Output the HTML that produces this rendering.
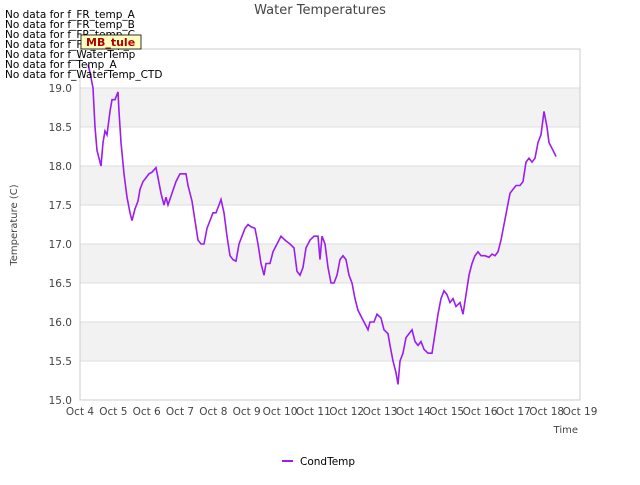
<!DOCTYPE html>
<html><head><meta charset="utf-8"><style>
body{margin:0;background:#fff;}
svg{font-family:"DejaVu Sans","Liberation Sans",sans-serif;}
</style></head><body>
<svg id="c" width="640" height="480">
<text x="320" y="14" text-anchor="middle" font-size="13" fill="#444">Water Temperatures</text>
<g id="bands"></g>
<g id="grid"></g>
<rect x="80" y="49" width="500" height="351" fill="none" stroke="#ccc"/>
<g id="yt"></g><g id="xt"></g>
<text x="17" y="225" transform="rotate(-90 17 225)" text-anchor="middle" font-size="10" fill="#444">Temperature (C)</text>
<text x="578" y="433" text-anchor="end" font-size="10" fill="#444">Time</text>
<path id="line" fill="none" stroke="#9b1df0" stroke-width="1.6"/>
<g font-size="10.5" fill="#000">
<text x="5" y="18">No data for f_FR_temp_A</text>
<text x="5" y="28">No data for f_FR_temp_B</text>
<text x="5" y="38">No data for f_FR_temp_C</text>
<text x="5" y="48">No data for f_FD_Temp_1</text>
<text x="5" y="58">No data for f_WaterTemp</text>
<text x="5" y="68">No data for f_Temp_A</text>
<text x="5" y="78">No data for f_WaterTemp_CTD</text>
</g>
<rect x="81" y="35" width="60" height="14" fill="#ffffc0" stroke="#000" stroke-width="0.8"/>
<text x="86" y="46" font-size="11" fill="#b00000" font-weight="bold">MB_tule</text>
<line x1="282" y1="461" x2="293" y2="461" stroke="#9b1df0" stroke-width="2"/>
<text x="300" y="465" font-size="10.5" fill="#000">CondTemp</text>
</svg>
<script>
const yTicks=[15.0,15.5,16.0,16.5,17.0,17.5,18.0,18.5,19.0];
const xLabels=["Oct 4","Oct 5","Oct 6","Oct 7","Oct 8","Oct 9","Oct 10","Oct 11","Oct 12","Oct 13","Oct 14","Oct 15","Oct 16","Oct 17","Oct 18","Oct 19"];
const days=[0.24,0.30,0.39,0.45,0.51,0.60,0.63,0.69,0.75,0.81,0.90,0.96,1.05,1.14,1.17,1.23,1.32,1.41,1.50,1.56,1.65,1.74,1.80,1.89,1.98,2.07,2.16,2.28,2.34,2.43,2.52,2.58,2.64,2.76,2.88,3.00,3.09,3.18,3.24,3.36,3.45,3.54,3.63,3.72,3.81,3.90,3.99,4.08,4.17,4.23,4.32,4.41,4.50,4.59,4.68,4.77,4.86,4.95,5.04,5.13,5.25,5.34,5.43,5.52,5.58,5.70,5.79,5.91,6.03,6.15,6.30,6.42,6.51,6.60,6.69,6.78,6.90,7.02,7.14,7.20,7.26,7.35,7.44,7.53,7.62,7.71,7.80,7.89,7.98,8.07,8.16,8.25,8.34,8.46,8.58,8.64,8.70,8.82,8.91,9.03,9.12,9.24,9.30,9.39,9.48,9.54,9.60,9.69,9.78,9.87,9.96,10.05,10.14,10.23,10.32,10.44,10.56,10.65,10.74,10.83,10.92,11.01,11.10,11.19,11.28,11.40,11.49,11.58,11.67,11.76,11.85,11.94,12.03,12.15,12.27,12.36,12.45,12.54,12.63,12.72,12.81,12.90,12.99,13.08,13.20,13.29,13.38,13.47,13.56,13.65,13.74,13.83,13.92,14.01,14.07,14.13,14.19,14.25,14.28];
const condTemp=[19.3,19.2,19.0,18.5,18.2,18.05,18.0,18.3,18.45,18.4,18.7,18.85,18.85,18.95,18.7,18.3,17.9,17.6,17.4,17.3,17.45,17.55,17.7,17.8,17.85,17.9,17.92,17.98,17.85,17.65,17.5,17.6,17.5,17.65,17.8,17.9,17.9,17.9,17.75,17.55,17.3,17.05,17.0,17.0,17.2,17.3,17.4,17.4,17.5,17.57,17.4,17.1,16.85,16.8,16.78,17.0,17.1,17.2,17.25,17.22,17.2,17.0,16.75,16.6,16.75,16.75,16.9,17.0,17.1,17.05,17.0,16.95,16.65,16.6,16.7,16.95,17.05,17.1,17.1,16.8,17.1,17.0,16.7,16.5,16.5,16.6,16.8,16.85,16.8,16.6,16.5,16.3,16.15,16.05,15.95,15.9,16.0,16.0,16.1,16.05,15.9,15.85,15.7,15.5,15.35,15.2,15.5,15.6,15.8,15.85,15.9,15.75,15.7,15.75,15.65,15.6,15.6,15.85,16.1,16.3,16.4,16.35,16.25,16.3,16.2,16.25,16.1,16.35,16.6,16.75,16.85,16.9,16.85,16.85,16.83,16.87,16.85,16.9,17.05,17.25,17.45,17.65,17.7,17.75,17.75,17.8,18.05,18.1,18.05,18.1,18.3,18.4,18.7,18.5,18.3,18.25,18.2,18.15,18.12];
const X=d=>80+d*(500/15);
const Y=v=>400-(v-15)*78;
const NS="http://www.w3.org/2000/svg";
function mk(p,t,a){const e=document.createElementNS(NS,t);for(const k in a)e.setAttribute(k,a[k]);p.appendChild(e);return e;}
const bands=document.getElementById('bands'),grid=document.getElementById('grid'),yt=document.getElementById('yt'),xt=document.getElementById('xt');
[15.5,16.5,17.5,18.5].forEach(v=>{const r=mk(bands,'rect',{x:80,y:Y(v+0.5),width:500,height:Y(v)-Y(v+0.5),fill:'#f2f2f2'});

});
yTicks.forEach(v=>{const l=mk(grid,'line',{x1:80,x2:580,y1:Y(v),y2:Y(v),stroke:'#ddd'});


const t=mk(yt,'text',{x:72,y:Y(v)+4,'text-anchor':'end','font-size':10.5,fill:'#444'});t.textContent=v.toFixed(1);

});
xLabels.forEach((s,i)=>{const t=mk(xt,'text',{x:X(i),y:415,'text-anchor':'middle','font-size':10.5,fill:'#444'});t.textContent=s;

});
document.getElementById('line').setAttribute('d',days.map((d,i)=>(i?'L':'M')+X(d).toFixed(1)+' '+Y(condTemp[i]).toFixed(1)).join(' '));
</script>
</body></html>
